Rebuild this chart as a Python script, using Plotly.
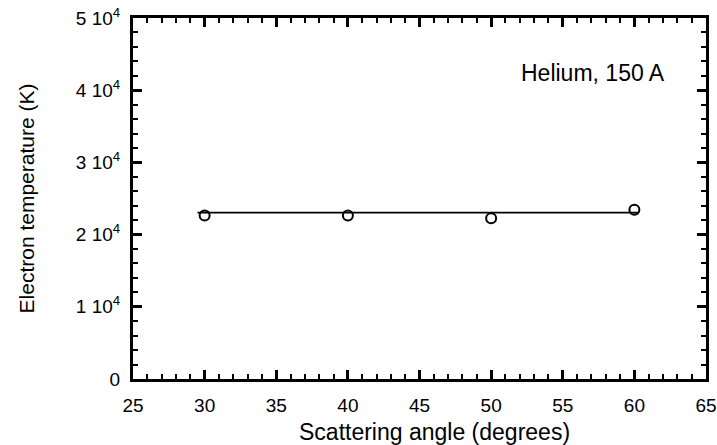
import plotly.graph_objects as go

angles = [30, 40, 50, 60]
temps = [22650, 22650, 22250, 23450]
fit_x = [29.5, 60.3]
fit_y = [23050, 23050]
yticks = [0, 10000, 20000, 30000, 40000, 50000]
yticktext = ["0", "1 10<sup>4</sup>", "2 10<sup>4</sup>", "3 10<sup>4</sup>", "4 10<sup>4</sup>", "5 10<sup>4</sup>"]
xticks = [25, 30, 35, 40, 45, 50, 55, 60, 65]

FONT = "Liberation Sans, Arial, Helvetica"

fig = go.Figure()
fig.add_trace(go.Scatter(x=fit_x, y=fit_y, mode="lines",
                         line=dict(color="black", width=1.6), showlegend=False))
fig.add_trace(go.Scatter(x=angles, y=temps, mode="markers",
                         marker=dict(symbol="circle-open", size=10, color="black",
                                     line=dict(width=2, color="black")),
                         showlegend=False))

fig.add_annotation(text="Helium, 150 A", xref="x", yref="y", x=62.3, y=42400,
                   xanchor="right", yanchor="middle", showarrow=False,
                   font=dict(size=23, color="black", family=FONT))
fig.add_annotation(text="Scattering angle (degrees)", xref="paper", yref="paper",
                   x=(434 - 133) / 573, y=-(432 - 379) / 361,
                   xanchor="center", yanchor="middle", showarrow=False,
                   font=dict(size=23, color="black", family=FONT))

axis_common = dict(showgrid=False, zeroline=False, showline=True, linecolor="black",
                   linewidth=3, mirror="allticks", ticks="inside", tickcolor="black",
                   tickwidth=3, ticklen=9, automargin=False,
                   tickfont=dict(size=19, color="black", family=FONT))

fig.update_xaxes(range=[25, 65], tickvals=xticks,
                 minor=dict(dtick=1, tick0=25, ticks="inside", ticklen=5, tickwidth=2, tickcolor="black"),
                 ticklabelstandoff=7,
                 **axis_common)
fig.update_yaxes(range=[0, 50000], tickvals=yticks, ticktext=yticktext,
                 title=dict(text="Electron temperature (K)",
                            font=dict(size=21, color="black", family=FONT), standoff=36),
                 minor=dict(dtick=2000, tick0=0, ticks="inside", ticklen=5, tickwidth=2, tickcolor="black"),
                 ticklabelstandoff=6,
                 **axis_common)

fig.update_layout(width=717, height=445, margin=dict(l=133, r=11, t=18, b=66),
                  plot_bgcolor="white", paper_bgcolor="white",
                  font=dict(family=FONT, color="black"))

fig.write_html("out.html")
